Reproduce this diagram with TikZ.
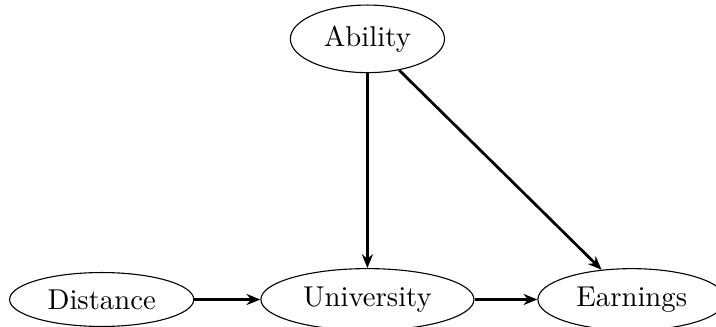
\documentclass[tikz,border=0pt]{standalone}
\usepackage{fontspec}
\usetikzlibrary{arrows.meta, shapes.geometric}

\begin{document}
\begin{tikzpicture}
                \useasboundingbox (0,0) rectangle (9.12,4.165);
                \tikzset{var/.style={ellipse, draw, inner xsep=4pt, inner ysep=3.3pt, font=\fontsize{10.4}{12}\selectfont},
                         edge/.style={-{Stealth[length=5pt, width=4pt]}, line width=1pt}}
                \node[var, minimum height=24.5pt] (ability) at (4.68, 3.67) {Ability};
                \node[var] (distance) at (1.295, 0.35) {Distance};
                \node[var] (university) at (4.68, 0.35) {University};
                \node[var] (earnings) at (8.047, 0.35) {Earnings};
                \draw[edge] (ability) -- (university);
                \draw[edge] (ability) -- (earnings);
                \draw[edge] (distance) -- (university);
                \draw[edge] (university) -- (earnings);
            \end{tikzpicture}
\end{document}
